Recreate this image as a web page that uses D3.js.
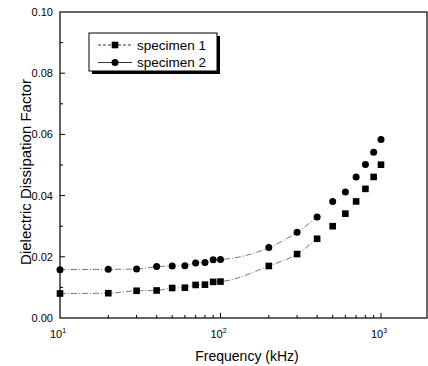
<!DOCTYPE html>
<html lang="en">
<head>
<meta charset="UTF-8">
<title>Dielectric Dissipation Factor</title>
<script src="https://d3js.org/d3.v7.min.js"></script>
<style>
  body { margin: 0; background: #fff; }
  svg text { font-family: "Liberation Sans", Arial, sans-serif; fill: #000; }
</style>
</head>
<body>
<div id="chart"></div>
<script>
// frequency in kHz
const freqs = [10, 20, 30, 40, 50, 60, 70, 80, 90, 100, 200, 300, 400, 500, 600, 700, 800, 900, 1000];
const specimen1 = [0.0080, 0.0081, 0.0089, 0.0090, 0.0098, 0.0099, 0.0108, 0.0109, 0.0118, 0.0119, 0.0170, 0.0209, 0.0259, 0.0300, 0.0341, 0.0381, 0.0422, 0.0461, 0.0501];
const specimen2 = [0.0158, 0.0159, 0.0160, 0.0168, 0.0170, 0.0171, 0.0180, 0.0181, 0.0190, 0.0191, 0.0230, 0.0280, 0.0330, 0.0381, 0.0412, 0.0461, 0.0502, 0.0542, 0.0583];
const yTicks = [0.00, 0.02, 0.04, 0.06, 0.08, 0.10];
const xDecades = [10, 100, 1000];
const seriesNames = ["specimen 1", "specimen 2"];
const fitUpTo = 400; // thin connecting line visible only on the low-frequency part

const W = 428, H = 366;
const m = { left: 60, right: 427, top: 12, bottom: 318 };

const svg = d3.select("#chart").append("svg")
  .attr("width", W).attr("height", H);

const x = d3.scaleLog().domain([10, 1935]).range([m.left, m.right]);
const y = d3.scaleLinear().domain([0, 0.10]).range([m.bottom, m.top]);

// frame
svg.append("rect")
  .attr("x", m.left).attr("y", m.top)
  .attr("width", m.right - m.left).attr("height", m.bottom - m.top)
  .attr("fill", "none").attr("stroke", "#000").attr("stroke-width", 1.2);

// y ticks (inward) + minor
const yMinor = d3.range(0.01, 0.10, 0.02);
svg.append("g").selectAll("line").data(yTicks.slice(1, -1)).enter().append("line")
  .attr("x1", m.left).attr("x2", m.left + 5)
  .attr("y1", d => y(d)).attr("y2", d => y(d))
  .attr("stroke", "#000");
svg.append("g").selectAll("line").data(yMinor).enter().append("line")
  .attr("x1", m.left).attr("x2", m.left + 3)
  .attr("y1", d => y(d)).attr("y2", d => y(d))
  .attr("stroke", "#000");
svg.append("g").selectAll("text").data(yTicks).enter().append("text")
  .attr("x", m.left - 7).attr("y", d => y(d) + 4)
  .attr("text-anchor", "end")
  .style("font-size", "11px")
  .text(d => d3.format(".2f")(d));

// x ticks (inward), log minors
const xMinor = [];
[10, 100, 1000].forEach(b => { for (let k = 2; k <= 9; k++) if (b * k <= 1935) xMinor.push(b * k); });
svg.append("g").selectAll("line").data(xDecades.slice(1)).enter().append("line")
  .attr("x1", d => x(d)).attr("x2", d => x(d))
  .attr("y1", m.bottom).attr("y2", m.bottom - 5)
  .attr("stroke", "#000");
svg.append("g").selectAll("line").data(xMinor).enter().append("line")
  .attr("x1", d => x(d)).attr("x2", d => x(d))
  .attr("y1", m.bottom).attr("y2", m.bottom - 3)
  .attr("stroke", "#000");
const xl = svg.append("g").selectAll("text").data(xDecades).enter().append("text")
  .attr("x", d => x(d) - 2).attr("y", m.bottom + 20)
  .attr("text-anchor", "middle")
  .style("font-size", "11px");
xl.append("tspan").text("10");
xl.append("tspan").attr("dy", -5).style("font-size", "7px").text(d => Math.round(Math.log10(d)));

// axis titles
svg.append("text")
  .attr("x", 247).attr("y", 361)
  .attr("text-anchor", "middle")
  .style("font-size", "14px")
  .text("Frequency (kHz)");
svg.append("text")
  .attr("transform", "translate(31,172) rotate(-90)")
  .attr("text-anchor", "middle")
  .style("font-size", "15px")
  .text("Dielectric Dissipation Factor");

// thin connecting lines
const line = d3.line()
  .x(d => x(d[0])).y(d => y(d[1]))
  .curve(d3.curveMonotoneX);
const pts1 = freqs.map((f, i) => [f, specimen1[i]]);
const pts2 = freqs.map((f, i) => [f, specimen2[i]]);
svg.append("path").datum(pts1.filter(d => d[0] <= fitUpTo))
  .attr("d", line).attr("fill", "none")
  .attr("stroke", "#555").attr("stroke-width", 0.8)
  .attr("stroke-dasharray", "6,2,1,2");
svg.append("path").datum(pts2.filter(d => d[0] <= fitUpTo))
  .attr("d", line).attr("fill", "none")
  .attr("stroke", "#555").attr("stroke-width", 0.8)
  .attr("stroke-dasharray", "6,2,1,2");

// markers
svg.append("g").selectAll("rect").data(pts1).enter().append("rect")
  .attr("x", d => x(d[0]) - 3.3).attr("y", d => y(d[1]) - 3.3)
  .attr("width", 6.6).attr("height", 6.6).attr("fill", "#000");
svg.append("g").selectAll("circle").data(pts2).enter().append("circle")
  .attr("cx", d => x(d[0])).attr("cy", d => y(d[1]))
  .attr("r", 3.5).attr("fill", "#000");

// legend with shadow
const lg = svg.append("g");
lg.append("rect").attr("x", 92).attr("y", 36).attr("width", 128).attr("height", 38).attr("fill", "#000");
lg.append("rect").attr("x", 89).attr("y", 33).attr("width", 128).attr("height", 38)
  .attr("fill", "#fff").attr("stroke", "#000").attr("stroke-width", 1);
const rows = lg.selectAll("g.row").data(seriesNames).enter().append("g")
  .attr("transform", (d, i) => `translate(0,${45 + i * 17.5})`);
rows.append("line").attr("x1", 98).attr("x2", 132).attr("y1", 0).attr("y2", 0)
  .attr("stroke", "#000").attr("stroke-width", 0.8)
  .attr("stroke-dasharray", (d, i) => i === 0 ? "3,2" : null);
rows.filter((d, i) => i === 0).append("rect")
  .attr("x", 111.7).attr("y", -3.3).attr("width", 6.6).attr("height", 6.6).attr("fill", "#000");
rows.filter((d, i) => i === 1).append("circle")
  .attr("cx", 115).attr("cy", 0).attr("r", 3.5).attr("fill", "#000");
rows.append("text").attr("x", 137).attr("y", 4.5)
  .style("font-size", "13.5px").text(d => d);
</script>
</body>
</html>
